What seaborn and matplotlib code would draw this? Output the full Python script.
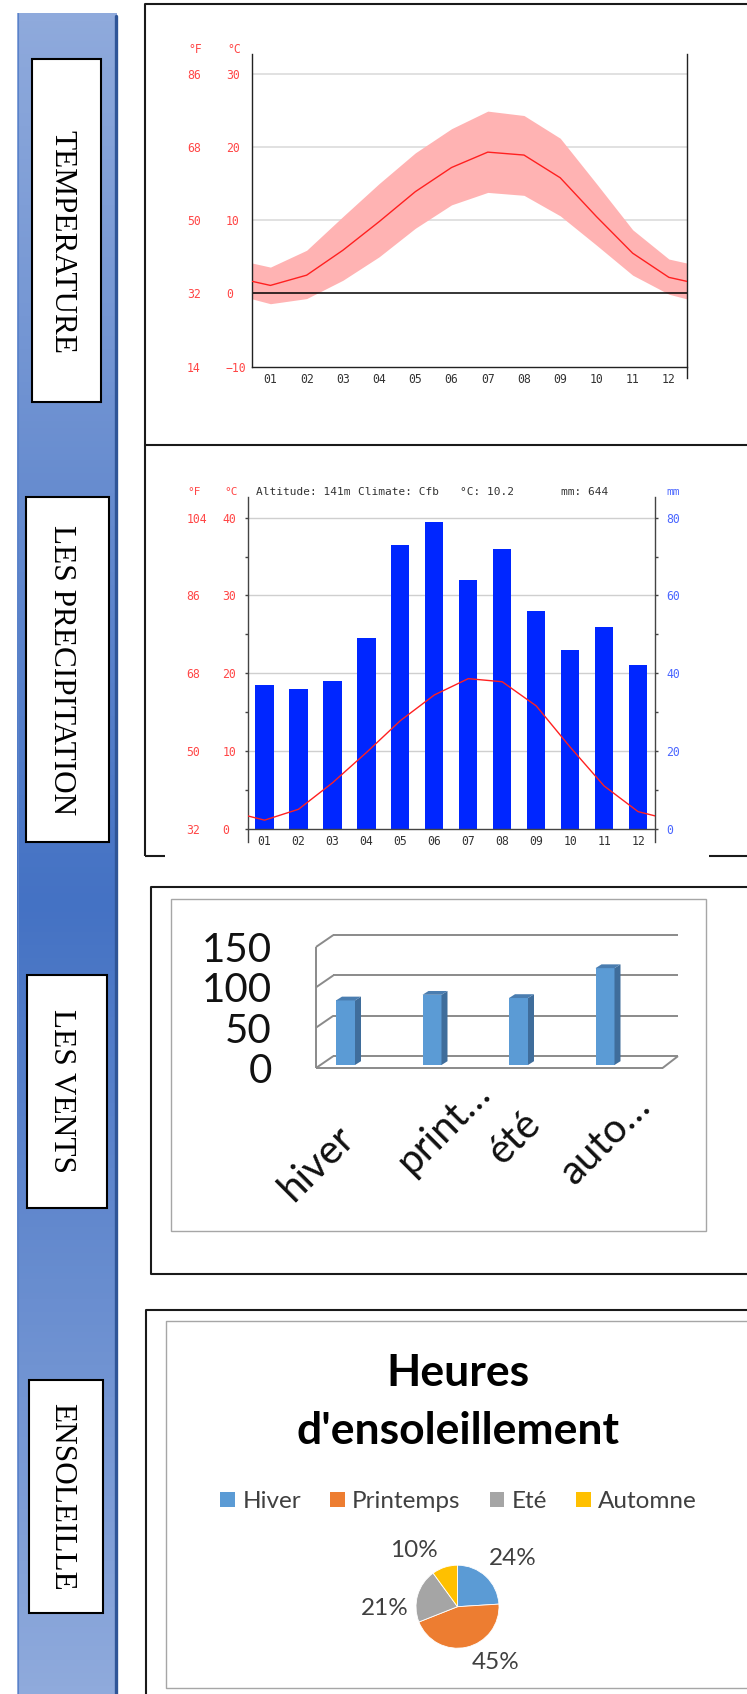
import numpy as np
import matplotlib
matplotlib.use('Agg')
import matplotlib.pyplot as plt
from matplotlib.colors import LinearSegmentedColormap
from matplotlib.patches import Rectangle, Polygon
import seaborn as sns

# ---- data ----
months = ['01', '02', '03', '04', '05', '06', '07', '08', '09', '10', '11', '12']
temp_mean = [1.1, 2.5, 5.9, 9.8, 13.9, 17.2, 19.3, 18.9, 15.8, 10.5, 5.5, 2.2]
temp_max = [3.6, 5.9, 10.5, 15.0, 19.2, 22.5, 24.9, 24.3, 21.2, 15.0, 8.7, 4.7]
temp_min = [-1.4, -0.7, 1.8, 5.0, 8.9, 12.1, 13.8, 13.4, 10.6, 6.6, 2.5, -0.1]
precip_mm = [37, 36, 38, 49, 73, 79, 64, 72, 56, 46, 52, 42]
altitude_m = 141
climate_code = 'Cfb'

temp_c_ticks = [-10, 0, 10, 20, 30]
temp_f_ticks = [14, 32, 50, 68, 86]
rain_c_ticks = [0, 10, 20, 30, 40]
rain_f_ticks = [32, 50, 68, 86, 104]
rain_mm_ticks = [0, 20, 40, 60, 80]

seasons = ['hiver', 'print…', 'été', 'auto…']
wind = [80, 87, 83, 120]
wind_ticks = [0, 50, 100, 150]

sun_seasons = ['Hiver', 'Printemps', 'Eté', 'Automne']
sun_share = [24, 45, 21, 10]
sun_colors = ['#5B9BD5', '#ED7D31', '#A5A5A5', '#FFC000']

sections = ['TEMPERATURE', 'LES PRECIPITATION', 'LES VENTS', 'ENSOLEILLE']

W, H = 747, 1694
sns.set_style('white')
plt.rcParams['font.family'] = ['DejaVu Sans Mono', 'DejaVu Sans']
plt.rcParams['font.size'] = 8
plt.rcParams['axes.unicode_minus'] = True

RED = '#FF4646'
BLUE_LAB = '#4A66FF'
SERIF = ['Liberation Serif', 'DejaVu Serif']
SANS = ['Lato', 'DejaVu Sans']
GRID3D = '#8A8A8A'
TICK_FS = 8.3

fig = plt.figure(figsize=(W / 100, H / 100), dpi=100)


def px_axes(l, t, r, b):
    ax = fig.add_axes([l / W, 1 - b / H, (r - l) / W, (b - t) / H])
    ax.patch.set_alpha(0)
    return ax


def pt(px):
    return px * 0.72


def c2f(c):
    return c * 1.8 + 32


def f2c(f):
    return (f - 32) / 1.8


def wrap(values):
    # climate charts continue the curve to the plot edges (dec/jan wrap)
    edge = (values[0] + values[-1]) / 2
    return np.r_[edge, values, edge]


# ---- background layer: sidebar, label boxes, panel frames ----
bg = px_axes(0, 0, W, H)
side_cmap = LinearSegmentedColormap.from_list(
    'side', [(0, '#8FAADC'), (0.53, '#4472C4'), (1, '#8FAADC')])
bg.imshow(np.linspace(0, 1, 500).reshape(-1, 1), cmap=side_cmap,
          extent=[17, 117, H, 13], aspect='auto', interpolation='bilinear')
bg.plot([115.5, 115.5], [16, H], color='#2F5597', lw=2.4)
bg.plot([17.5, 17.5], [13, H], color='#5A82C9', lw=0.8)

label_boxes = [(31.7, 59.3, 100.7, 401.7, 241.5),
               (26.0, 497.3, 109.3, 841.7, 669.7),
               (26.7, 975.0, 106.7, 1207.7, 1091.0),
               (29.0, 1380.0, 103.3, 1612.7, 1497.0)]
for name, (l, t, r, b, yc) in zip(sections, label_boxes):
    bg.add_patch(Rectangle((l, t), r - l, b - t, fc='white', ec='black', lw=1.5, zorder=2))
    bg.text(54, yc, name, rotation=270, ha='center', va='baseline', rotation_mode='anchor',
            family=SERIF, fontsize=22.5, color='black', zorder=3)

frame = dict(color='#1A1A1A', lw=1.5, solid_capstyle='butt')
bg.plot([W, 144.6, 144.6, W], [4, 4, 445, 445], **frame)
bg.plot([144.6, 144.6], [445, 856], **frame)
bg.plot([144.6, 165], [856, 856], **frame)
bg.plot([709, W], [856, 856], **frame)
bg.plot([W, 151, 151, W], [887, 887, 1274, 1274], **frame)
bg.add_patch(Rectangle((171, 899), 535, 332, fc='none', ec='#A6A6A6', lw=1))
bg.plot([W, 145.8, 145.8], [1310, 1310, H], **frame)
bg.plot([W, 166.3, 166.3, W], [1320.7, 1320.7, 1687.7, 1687.7], color='#A6A6A6', lw=1)
bg.set_xlim(0, W)
bg.set_ylim(H, 0)
bg.axis('off')

x_pos = np.arange(12)
x_ext = np.r_[-0.5, x_pos, 11.5]

# ---- panel 1: temperature ----
ax1 = px_axes(252.3, 54, 687, 366.7)
ax1.fill_between(x_ext, wrap(temp_min), wrap(temp_max), color='#FFB3B3', lw=0, zorder=1)
for v in [c for c in temp_c_ticks if c > 0]:
    ax1.axhline(v, color='#DCDCDC', lw=1.2, zorder=0)
ax1.axhline(0, color='black', lw=1.1, zorder=2)
sns.lineplot(x=x_ext, y=wrap(temp_mean), ax=ax1, color='#FF2020', linewidth=1, zorder=3)
ax1.set_xlim(-0.5, 11.5)
ax1.set_ylim(-10, 32.7)
ax1.set(xlabel='', ylabel='')
ax1.spines['top'].set_visible(False)
for s in ['left', 'right', 'bottom']:
    ax1.spines[s].set_color('#222222')
    ax1.spines[s].set_linewidth(1)
ax1.spines['right'].set_bounds(-11.5, 32.7)
ax1.set_yticks(temp_c_ticks)
ax1.set_yticks(np.array(temp_c_ticks[:-1]) + 5, minor=True)
ax1.tick_params(axis='y', which='both', direction='out', length=pt(3), width=1,
                color='#222222', labelcolor=RED, labelsize=TICK_FS, pad=pt(23.3))
plt.setp(ax1.get_yticklabels(), ha='left')
ax1.set_xticks(x_pos, months)
ax1.set_xticks(np.arange(-0.5, 12), minor=True)
ax1.tick_params(axis='x', which='major', length=0, pad=pt(6), labelcolor='#333333', labelsize=TICK_FS)
ax1.tick_params(axis='x', which='minor', direction='out', length=pt(3), width=1, color='#222222')
sec1 = ax1.secondary_yaxis((226 - 252.3) / (687 - 252.3), functions=(c2f, f2c))
sec1.set_yticks(temp_f_ticks)
for s in sec1.spines.values():
    s.set_visible(False)
sec1.tick_params(length=0, pad=pt(226 - 187), labelcolor=RED, labelsize=TICK_FS)
plt.setp(sec1.get_yticklabels(), ha='left')
bg.text(188.4, 49.3, '°F', color=RED, ha='left', va='center', fontsize=TICK_FS)
bg.text(227, 49.3, '°C', color=RED, ha='left', va='center', fontsize=TICK_FS)

# ---- panel 2: precipitation ----
ax2 = px_axes(247.6, 496.7, 655, 828.7)
sns.barplot(x=x_pos, y=precip_mm, native_scale=True, ax=ax2, color='#0026FF',
            saturation=1, width=0.536, linewidth=0, zorder=2)
for v in rain_mm_ticks[1:]:
    ax2.axhline(v, color='#CFCFCF', lw=1, zorder=0)
ax2.set_xlim(-0.5, 11.5)
ax2.set_ylim(0, 2 * 42.7)
ax2.set(xlabel='', ylabel='')
ax2t = ax2.twinx()
ax2.yaxis.tick_right()
ax2t.yaxis.tick_left()
ax2t.patch.set_alpha(0)
sns.lineplot(x=x_ext, y=wrap(temp_mean), ax=ax2t, color='#FF2020', linewidth=1, zorder=3)
ax2t.set_ylim(0, 42.7)
ax2t.set_xlim(-0.5, 11.5)
ax2t.set(xlabel='', ylabel='')
for s in ax2t.spines.values():
    s.set_visible(False)
ax2.spines['top'].set_visible(False)
for s in ['left', 'right', 'bottom']:
    ax2.spines[s].set_color('#444444')
    ax2.spines[s].set_linewidth(1)
ax2.spines['left'].set_bounds(-3.4, 85.4)
ax2.spines['right'].set_bounds(-3.4, 85.4)

ax2t.set_yticks(rain_c_ticks)
ax2t.set_yticks(np.array(rain_c_ticks[:-1]) + 5, minor=True)
ax2t.tick_params(axis='y', which='both', direction='out', length=pt(3), width=1,
                 color='#444444', labelcolor=RED, labelsize=TICK_FS, pad=pt(22.1))
plt.setp(ax2t.get_yticklabels(), ha='left')
ax2.set_yticks(rain_mm_ticks)
ax2.set_yticks(np.array(rain_mm_ticks[:-1]) + 10, minor=True)
ax2.tick_params(axis='y', which='both', direction='out', length=pt(3), width=1,
                color='#444444', labelcolor=BLUE_LAB, labelsize=TICK_FS, pad=pt(8.5))
ax2.set_xticks(x_pos, months)
ax2.set_xticks(np.arange(-0.5, 12), minor=True)
ax2.tick_params(axis='x', which='major', length=0, pad=pt(6), labelcolor='#333333', labelsize=TICK_FS)
ax2.tick_params(axis='x', which='minor', direction='out', length=pt(3), width=1, color='#444444')
sec2 = ax2t.secondary_yaxis((222.5 - 247.6) / (655 - 247.6), functions=(c2f, f2c))
sec2.set_yticks(rain_f_ticks)
for s in sec2.spines.values():
    s.set_visible(False)
sec2.tick_params(length=0, pad=pt(36), labelcolor=RED, labelsize=TICK_FS)
plt.setp(sec2.get_yticklabels(), ha='left')

header = [(187, '°F', RED), (224, '°C', RED),
          (256, f'Altitude: {altitude_m}m', '#333333'),
          (358, f'Climate: {climate_code}', '#333333'),
          (460.5, f'°C: {np.mean(temp_mean):.1f}', '#333333'),
          (561, f'mm: {sum(precip_mm)}', '#333333'),
          (666, 'mm', BLUE_LAB)]
for hx, txt, col in header:
    bg.text(hx, 492, txt, color=col, ha='left', va='center', fontsize=8)

# ---- panel 3: winds (excel-like 3d columns) ----
wx = 86.5    # px per category
wy = 0.807   # px per unit
ax3 = px_axes(316, 930, 680, 1068)
sns.barplot(x=seasons, y=wind, ax=ax3, color='#5B9BD5', saturation=1,
            width=19 / wx, linewidth=0, zorder=3)
ax3.set_xlim(-29.5 / wx, 334.5 / wx)
ax3.set_ylim(-3 / wy, 135 / wy)
ax3.set(xlabel='', ylabel='')
for s in ax3.spines.values():
    s.set_visible(False)

front_dy = -3 / wy
back_dy = 11
fx0, fx1 = -29.5 / wx, 317.1 / wx
bx0, bx1 = -12.2 / wx, 332.5 / wx
line_kw = dict(color=GRID3D, lw=1.4, clip_on=False, zorder=1, solid_capstyle='butt')
for t in wind_ticks:
    ax3.plot([bx0, bx1], [t + back_dy, t + back_dy], **line_kw)
    ax3.plot([fx0, bx0], [t + front_dy, t + back_dy], **line_kw)
ax3.plot([fx0, fx0], [front_dy, wind_ticks[-1] + front_dy], **line_kw)
ax3.plot([fx0, fx1], [front_dy, front_dy], **line_kw)
ax3.plot([fx1, bx1], [front_dy, back_dy], **line_kw)

sdx, sdy = 6 / wx, 3.8 / wy
for p in ax3.patches:
    x0, w, h = p.get_x(), p.get_width(), p.get_height()
    ax3.add_patch(Polygon([(x0 + w, 0), (x0 + w + sdx, sdy), (x0 + w + sdx, h + sdy), (x0 + w, h)],
                          closed=True, fc='#3F6D9B', ec='none', zorder=3, clip_on=False))
    ax3.add_patch(Polygon([(x0, h), (x0 + w, h), (x0 + w + sdx, h + sdy), (x0 + sdx, h + sdy)],
                          closed=True, fc='#4A7DB0', ec='none', zorder=3, clip_on=False))

ax3.set_yticks([t + front_dy for t in wind_ticks], [str(t) for t in wind_ticks])
ax3.tick_params(axis='y', direction='out', length=pt(13.3), width=1.3, color=GRID3D,
                pad=pt(30.7), labelsize=29, labelcolor='#111111')
plt.setp(ax3.get_yticklabels(), family=SANS)
ax3.set_xticks([])
ax3.set_xticks(-27.8 / wx + np.arange(5) * 85.75 / wx, minor=True)
ax3.tick_params(axis='x', which='minor', direction='out', length=pt(15), width=1.3, color=GRID3D)

wind_label_xy = [(356, 1140), (492, 1095), (543, 1126), (653, 1108)]
for (lx, ly), name in zip(wind_label_xy, seasons):
    bg.text(lx, ly, name, rotation=45, ha='right', va='baseline', rotation_mode='anchor',
            family=SANS, fontsize=29, color='#111111')

# ---- panel 4: sunshine pie ----
pr = 41.5
pcx, pcy = 457.5, 1606.7
ax4 = px_axes(pcx - pr, pcy - pr, pcx + pr, pcy + pr)
wedges, _, autotexts = ax4.pie(sun_share, colors=sun_colors, startangle=90, counterclock=False,
                               radius=1, autopct='%1.0f%%',
                               wedgeprops=dict(edgecolor='white', linewidth=0.6),
                               textprops=dict(family=SANS, fontsize=17.5, color='#404040'))
pct_xy = [(1.323, 1.166), (0.913, -1.34), (-1.754, -0.039), (-1.055, 1.349)]
for txt, xy in zip(autotexts, pct_xy):
    txt.set_position(xy)
    txt.set_ha('center')
    txt.set_va('center')
ax4.set_xlim(-1, 1)
ax4.set_ylim(-1, 1)
ax4.set_aspect('equal')

bg.text(pcx, 1386, 'Heures', ha='center', va='baseline', family=SANS, fontsize=32,
        fontweight='bold', color='black')
bg.text(pcx, 1444, "d'ensoleillement", ha='center', va='baseline', family=SANS, fontsize=32,
        fontweight='bold', color='black')

leg = ax4.legend(wedges, sun_seasons, loc='center', ncol=4, frameon=False,
                 bbox_to_anchor=(458.5 / W, 1 - 1501.7 / H), bbox_transform=fig.transFigure,
                 prop=dict(family=SANS, size=17.5), labelcolor='#404040',
                 handlelength=0.6, handleheight=0.6, handletextpad=0.3,
                 columnspacing=1.2, borderpad=0, borderaxespad=0)
for hnd in leg.legend_handles:
    hnd.set_edgecolor('none')

fig.savefig('out.png', dpi=100)
